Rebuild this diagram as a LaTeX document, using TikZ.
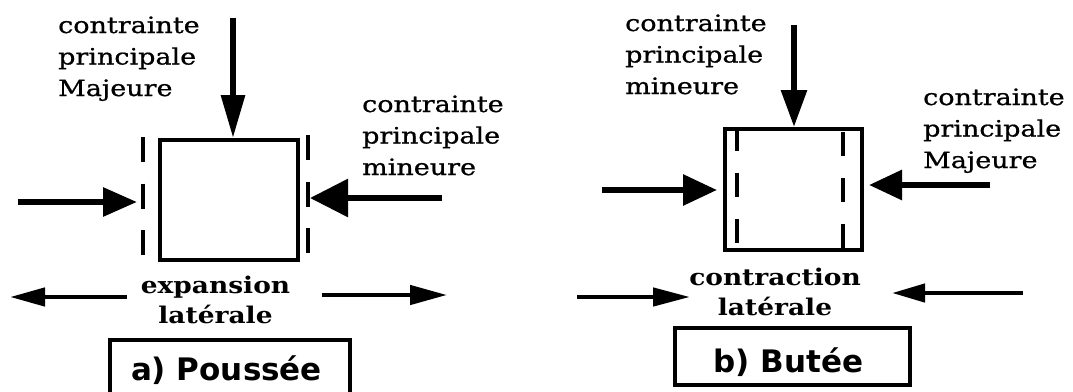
\documentclass[tikz,border=0pt]{standalone}
\usepackage{fontspec}
\setmainfont{DejaVu Serif}
\newfontfamily\lblfont[FakeStretch=1.2,FakeBold=0.8]{DejaVu Serif}
\newfontfamily\midfont[FakeStretch=1.15]{DejaVu Serif}
\newfontfamily\ttlfont{DejaVu Sans}
\usetikzlibrary{arrows.meta}
\begin{document}
\begin{tikzpicture}[x=1pt,y=-1pt,
  lbl/.style={font=\lblfont\fontsize{22.5}{31.5}\selectfont, align=left, anchor=base west, inner sep=0pt},
  clbl/.style={font=\midfont\bfseries\fontsize{23}{30}\selectfont, align=center, anchor=base, inner sep=0pt},
  ttl/.style={font=\ttlfont\bfseries\fontsize{31}{34}\selectfont, anchor=base, inner sep=0pt},
  sample/.style={draw, line width=4pt, inner sep=0pt},
  frame/.style={line width=3.5pt},
  slip/.style={line width=3.5pt},
  load/.style 2 args={line width=6pt, -{Triangle[length=#1, width=#2]}},
  strain/.style 2 args={line width=4.5pt, -{Triangle[length=#1, width=#2]}}]
\useasboundingbox (0,0) rectangle (1073,391);
\fill[white] (0,0) rectangle (1073,391);

% ---------- a) Poussee ----------
\node[sample, minimum width=138pt, minimum height=120pt] (boxA) at (229,200) {};
\node[lbl] (majA) at (58,96) {contrainte\\principale\\Majeure};
\node[lbl] (minA) at (362,175) {contrainte\\principale\\mineure};
\draw[slip, dash pattern=on 25pt off 21.5pt] (143,137) -- (143,256);
\draw[slip, dash pattern=on 25pt off 21.5pt] (308,135) -- (308,256);
\coordinate (topA) at (233,18);
\draw[load={43pt}{23pt}] (topA) -- (topA |- boxA.north);
\coordinate (lA) at (18,202);
\coordinate (lAe) at (137,202);
\draw[load={34pt}{28pt}] (lA) -- (lAe);
\coordinate (rA) at (442,198);
\coordinate (rAe) at (310,198);
\draw[load={38pt}{37pt}] (rA) -- (rAe);
\node[clbl] (expA) at (215.5,323) {expansion\\latérale};
\coordinate (eAl) at (127,297);
\coordinate (eAle) at (10,297);
\draw[strain={35pt}{18pt}] (eAl) -- (eAle);
\coordinate (eAr) at (322,295);
\coordinate (eAre) at (447,295);
\draw[strain={37pt}{19pt}] (eAr) -- (eAre);
\draw[frame] (110,400) -- (110,340) -- (350,340) -- (350,400);
\node[ttl] (ttlA) at (226.5,380) {a) Poussée};

% ---------- b) Butee ----------
\node[sample, minimum width=137pt, minimum height=121pt] (boxB) at (793.5,189.5) {};
\node[lbl] (minB) at (625,94) {contrainte\\principale\\mineure};
\node[lbl] (majB) at (923,168) {contrainte\\principale\\Majeure};
\draw[slip, dash pattern=on 24pt off 22pt] (737,127) -- (737,245);
\draw[slip, dash pattern=on 24pt off 22pt] (843,132) -- (843,248);
\coordinate (topB) at (794,25);
\draw[load={37pt}{25pt}] (topB) -- (topB |- boxB.north);
\coordinate (lB) at (602,190);
\coordinate (lBe) at (717,190);
\draw[load={34pt}{30pt}] (lB) -- (lBe);
\coordinate (rB) at (990,185);
\coordinate (rBe) at (869,185);
\draw[load={33pt}{29pt}] (rB) -- (rBe);
\node[clbl] (conB) at (775,315) {contraction\\latérale};
\coordinate (cBl) at (577,297);
\coordinate (cBle) at (690,297);
\draw[strain={37pt}{18pt}] (cBl) -- (cBle);
\coordinate (cBr) at (1023,293);
\coordinate (cBre) at (892,293);
\draw[strain={33pt}{18pt}] (cBr) -- (cBre);
\node[frame, draw, minimum width=235pt, minimum height=57pt, inner sep=0pt] (frB) at (792.5,356.5) {};
\node[ttl] (ttlB) at (788.5,372) {b) Butée};
\end{tikzpicture}
\end{document}
